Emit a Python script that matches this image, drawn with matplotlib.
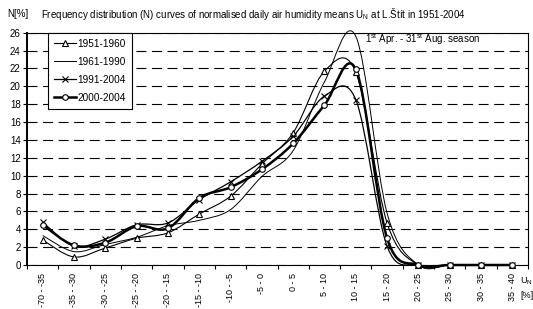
import numpy as np
import matplotlib
matplotlib.use("Agg")
import matplotlib.pyplot as plt
from matplotlib.path import Path
from matplotlib.patches import PathPatch
from matplotlib.lines import Line2D

plt.rcParams['font.family'] = ['Liberation Sans', 'DejaVu Sans']
plt.rcParams['mathtext.fontset'] = 'custom'
plt.rcParams['mathtext.rm'] = 'Liberation Sans'
plt.rcParams['mathtext.default'] = 'regular'

# classes of normalised humidity U_N [%]
categories = ["-70 - -35", "-35 - -30", "-30 - -25", "-25 - -20", "-20 - -15",
              "-15 - -10", "-10 - -5", "-5 - 0", "0 - 5", "5 - 10", "10 - 15",
              "15 - 20", "20 - 25", "25 - 30", "30 - 35", "35 - 40"]

# frequencies N [%]
n_1951_1960 = [2.8, 0.9, 1.9, 3.0, 3.6, 5.7, 7.7, 11.3, 14.8, 21.7, 21.6, 4.7, 0, 0, 0, 0]
n_1961_1990 = [3.3, 1.5, 2.3, 3.1, 4.4, 5.0, 6.2, 9.9, 12.8, 20.5, 25.6, 5.8, 0, 0, 0, 0]
n_1991_2004 = [4.8, 2.1, 2.9, 4.5, 4.7, 7.3, 9.3, 11.6, 14.4, 18.9, 18.5, 2.1, 0, 0, 0, 0]
n_2000_2004 = [4.5, 2.2, 2.5, 4.35, 4.1, 7.5, 8.7, 10.7, 13.6, 17.9, 21.9, 3.0, 0, 0, 0, 0]

series = [
    ("1951-1960", n_1951_1960, dict(lw=0.8, marker="^", ms=4)),
    ("1961-1990", n_1961_1990, dict(lw=0.7, marker=None, ms=0)),
    ("1991-2004", n_1991_2004, dict(lw=0.9, marker="x", ms=4)),
    ("2000-2004", n_2000_2004, dict(lw=1.8, marker="o", ms=4)),
]


def smooth_path(x, y):
    # bezier path like the smoothed lines of a spreadsheet chart
    pts = np.column_stack([x, y]).astype(float)
    verts = [pts[0]]
    codes = [Path.MOVETO]
    n = len(pts)
    for i in range(n - 1):
        p0 = pts[i - 1] if i > 0 else pts[i]
        p1 = pts[i]
        p2 = pts[i + 1]
        p3 = pts[i + 2] if i + 2 < n else pts[i + 1]
        c1 = p1 + (p2 - p0) / 6.0
        c2 = p2 - (p3 - p1) / 6.0
        verts += [c1, c2, p2]
        codes += [Path.CURVE4] * 3
    return Path(verts, codes)


fig = plt.figure(figsize=(5.33, 3.09), dpi=100)
ax = fig.add_axes([27 / 533, 1 - 265 / 309, 501 / 533, 232.3 / 309])

x = np.arange(len(categories))
for label, vals, st in series:
    ax.add_patch(PathPatch(smooth_path(x, vals), fill=False, edgecolor="black",
                           lw=st["lw"], zorder=3, clip_on=False))
    if st["marker"]:
        ax.plot(x, vals, ls="none", marker=st["marker"], ms=st["ms"],
                mfc="white", mec="black", mew=0.8, zorder=4, clip_on=False)

ax.set_xlim(-0.5, len(categories) - 0.5)
ax.set_ylim(0, 26)
ax.set_yticks(np.arange(0, 27, 2))
ax.yaxis.grid(True, color="black", ls=(0, (9, 5)), lw=0.8)
ax.set_axisbelow(True)
ax.tick_params(axis="y", labelsize=7, length=3, width=0.8, pad=1.5)
ax.set_xticks(x)
ax.set_xticklabels(categories, rotation=90, fontsize=6.5)
ax.tick_params(axis="x", which="major", length=0, pad=6)
ax.set_xticks(np.arange(-0.5, len(categories)), minor=True)
ax.tick_params(axis="x", which="minor", length=3, width=0.8, direction="out")
for side in ["top", "right", "bottom"]:
    ax.spines[side].set_linewidth(0.8)
ax.spines["left"].set_linewidth(1.4)

handles = [Line2D([], [], color="black", lw=st["lw"], marker=st["marker"],
                  ms=st["ms"], mfc="white", mec="black", mew=0.8)
           for _, _, st in series]
leg = ax.legend(handles, [s[0] for s in series], loc="upper left",
                bbox_to_anchor=(21 / 501, 1.0), fontsize=7.2, frameon=True,
                fancybox=False, edgecolor="black", framealpha=1,
                handlelength=2.2, handletextpad=0.15, labelspacing=0.8,
                borderpad=0.6, borderaxespad=0)
leg.get_frame().set_linewidth(0.8)
leg.set_zorder(5)

ax.text(0.675, 24.4, "1$^{st}$ Apr. - 31$^{st}$ Aug. season", fontsize=7,
        transform=ax.get_yaxis_transform(), va="bottom")

fig.text(7 / 533, 1 - 14 / 309, "N[%]", fontsize=7, va="center")
fig.text(41 / 533, 1 - 14 / 309,
         "Frequency distribution (N) curves of normalised daily air humidity means "
         "U$_N$ at L.Štít in 1951-2004", fontsize=7, va="center")
fig.text(520 / 533, 1 - 281 / 309, "U$_N$", fontsize=6.5, va="center")
fig.text(520 / 533, 1 - 295 / 309, "[%]", fontsize=6.5, va="center")

fig.savefig("out.png", dpi=100)
